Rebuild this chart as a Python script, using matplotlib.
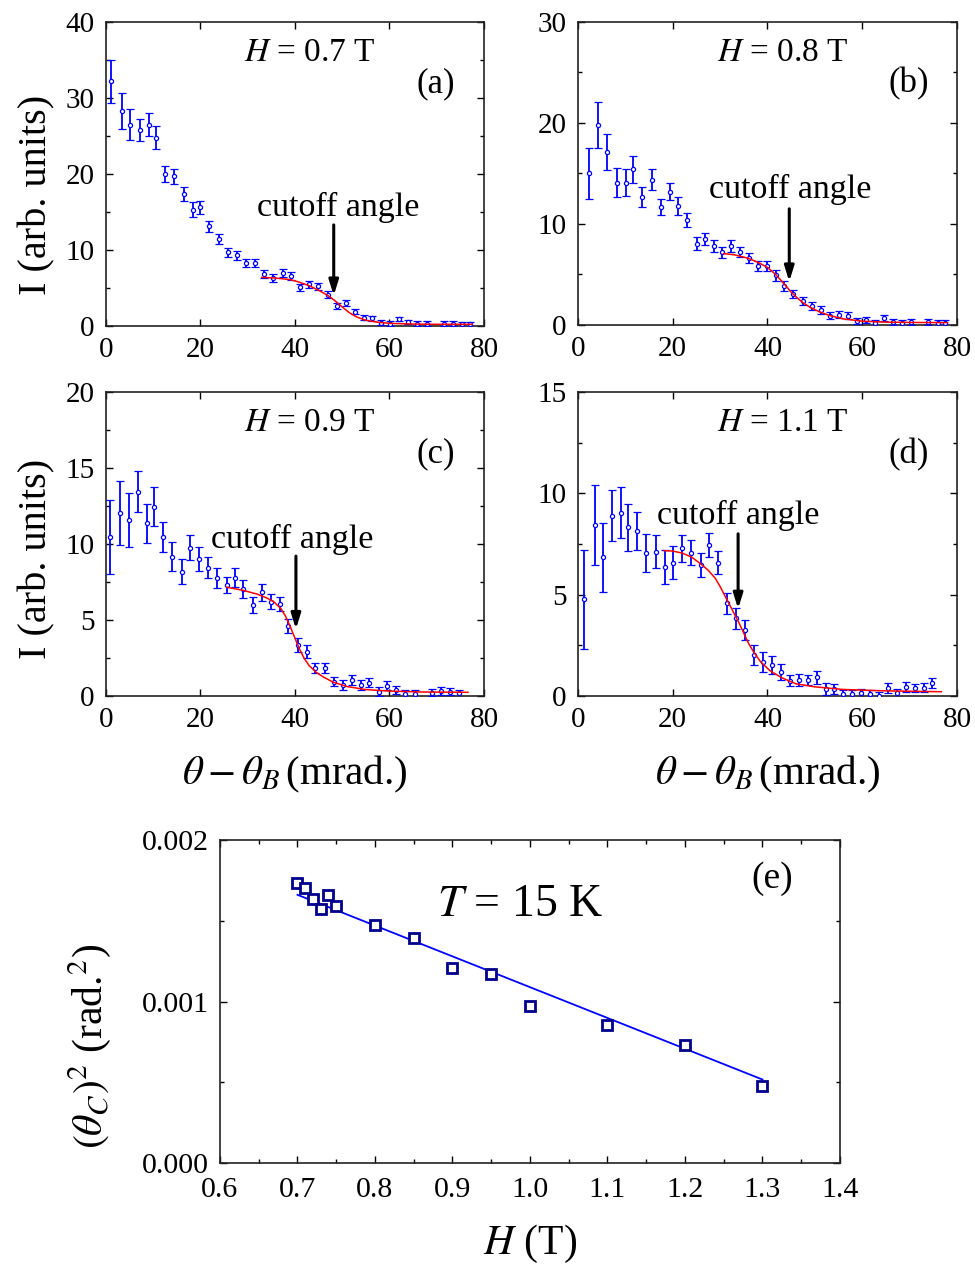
import matplotlib
matplotlib.use("Agg")
import matplotlib.pyplot as plt
from matplotlib.ticker import MultipleLocator, FormatStrFormatter

# ----------------------------------------------------
# Data
# ----------------------------------------------------

# (a) H = 0.7 T
xa = [1.1, 3.3, 5.1, 7.1, 9.0, 10.6, 12.4, 14.5, 16.5, 18.5, 20.0, 21.9, 23.9, 25.8,
      27.7, 29.6, 31.5, 33.5, 35.4, 37.4, 39.1, 41.1, 42.9, 44.9, 46.9, 48.8, 50.7,
      52.6, 54.5, 56.4, 58.3, 60.2, 62.1, 64.0, 65.9, 67.9, 71.6, 73.4, 75.3, 77.1]
ya = [32.2, 28.3, 26.5, 25.8, 26.5, 24.8, 20.0, 19.7, 17.4, 15.3, 15.6, 13.1, 11.4, 9.7,
      9.3, 8.3, 8.3, 6.8, 6.3, 7.0, 6.6, 5.1, 5.5, 5.2, 4.1, 2.6, 3.0,
      1.9, 1.1, 1.0, 0.45, 0.3, 0.9, 0.5, 0.3, 0.3, 0.3, 0.3, 0.2, 0.2]
ea = [2.8, 2.4, 2.0, 1.5, 1.5, 1.5, 1.1, 1.0, 0.9, 1.0, 0.85, 0.75, 0.65, 0.6,
      0.6, 0.55, 0.55, 0.55, 0.5, 0.5, 0.5, 0.45, 0.45, 0.45, 0.45, 0.4, 0.4,
      0.35, 0.35, 0.35, 0.3, 0.3, 0.3, 0.3, 0.3, 0.3, 0.3, 0.3, 0.3, 0.3]
fit_xa = [33, 36, 39, 41, 43, 45, 47, 48.5, 50, 51.5, 53, 55, 57.5, 60, 65, 70, 77.5]
fit_ya = [6.4, 6.3, 6.1, 5.75, 5.3, 4.7, 4.0, 3.3, 2.5, 1.75, 1.2, 0.75, 0.5, 0.35, 0.25, 0.22, 0.22]

# (b) H = 0.8 T
xb = [2.35, 4.3, 6.2, 8.2, 10.1, 11.7, 13.6, 15.6, 17.5, 19.4, 21.2, 23.1, 25.05, 26.9,
      28.7, 30.5, 32.3, 34.2, 36.2, 38.1, 39.8, 41.8, 43.5, 45.4, 47.5, 49.4, 51.4,
      53.2, 55.1, 57.0, 59.0, 60.75, 62.6, 64.6, 66.5, 68.4, 70.2, 73.9, 75.9, 77.5]
yb = [15.0, 19.8, 17.1, 14.1, 14.1, 15.4, 12.7, 14.4, 11.7, 13.2, 11.8, 10.4, 8.05, 8.5,
      7.8, 7.2, 7.8, 7.2, 6.6, 5.8, 5.8, 4.9, 3.85, 3.1, 2.4, 1.9, 1.5,
      0.9, 1.0, 0.9, 0.4, 0.5, 0.16, 0.66, 0.33, 0.16, 0.26, 0.26, 0.16, 0.23]
eb = [2.55, 2.27, 1.8, 1.4, 1.37, 1.3, 1.0, 1.0, 0.8, 0.85, 0.9, 0.7, 0.62, 0.58,
      0.62, 0.55, 0.6, 0.5, 0.5, 0.5, 0.5, 0.5, 0.5, 0.4, 0.4, 0.4, 0.4,
      0.35, 0.35, 0.35, 0.3, 0.3, 0.3, 0.3, 0.3, 0.3, 0.3, 0.3, 0.3, 0.3]
fit_xb = [30.7, 33, 36, 38, 40, 41.5, 43, 44, 45, 46, 47.5, 49, 51, 53, 56, 60, 65, 70, 78]
fit_yb = [7.07, 6.95, 6.6, 6.2, 5.7, 5.1, 4.35, 3.8, 3.25, 2.8, 2.2, 1.75, 1.3, 0.95,
          0.6, 0.38, 0.28, 0.25, 0.23]

# (c) H = 0.9 T
xc = [0.85, 3.0, 4.8, 6.7, 8.7, 10.2, 12.0, 14.0, 16.0, 17.85, 19.6, 21.5, 23.5, 25.6,
      27.4, 29.1, 31.1, 32.95, 34.9, 36.8, 38.6, 40.6, 42.5, 44.3, 46.4, 48.3, 50.2,
      52.0, 54.0, 55.75, 57.7, 59.5, 61.4, 63.3, 65.3, 69.0, 70.9, 72.8, 74.7]
yc = [10.48, 12.06, 11.58, 13.44, 11.36, 12.46, 10.44, 9.17, 8.18, 9.76, 8.99, 8.44, 7.78, 7.30,
      7.78, 7.04, 5.99, 6.82, 6.2, 6.03, 4.63, 3.36, 2.92, 1.86, 1.82, 0.94, 0.72,
      1.05, 0.72, 0.88, 0.29, 0.68, 0.39, 0.13, 0.13, 0.22, 0.33, 0.29, 0.18]
ec = [2.43, 2.1, 1.75, 1.35, 1.3, 1.26, 1.0, 0.93, 0.8, 0.84, 0.8, 0.68, 0.65, 0.55,
      0.62, 0.6, 0.55, 0.54, 0.5, 0.47, 0.46, 0.44, 0.44, 0.33, 0.33, 0.3, 0.3,
      0.33, 0.3, 0.3, 0.3, 0.3, 0.28, 0.25, 0.25, 0.25, 0.28, 0.25, 0.22]
fit_xc = [25.6, 29, 32, 34, 35.5, 37, 38, 39, 40, 41, 42, 43, 44.5, 46, 48, 51, 55, 60, 67, 76.6]
fit_yc = [7.15, 6.95, 6.7, 6.45, 6.2, 5.75, 5.25, 4.55, 3.8, 3.05, 2.45, 2.0, 1.55, 1.25,
          0.92, 0.62, 0.42, 0.32, 0.26, 0.24]

# (d) H = 1.1 T
xd = [1.3, 3.5, 5.2, 7.1, 9.0, 10.65, 12.4, 14.4, 16.5, 18.4, 20.0, 21.9, 23.9, 25.9,
      27.65, 29.5, 31.4, 33.35, 35.2, 37.1, 39.0, 40.9, 42.8, 44.7, 46.6, 48.5, 50.35,
      52.3, 54.1, 56.0, 57.9, 59.8, 61.7, 63.6, 65.5, 67.4, 69.2, 71.1, 73.0, 74.8]
yd = [4.77, 8.44, 6.84, 8.9, 9.05, 8.32, 8.14, 7.07, 7.12, 6.35, 6.58, 7.29, 7.07, 6.46,
      7.45, 6.58, 4.57, 3.83, 3.26, 2.02, 1.69, 1.53, 1.2, 0.76, 0.79, 0.79, 0.92,
      0.33, 0.33, 0.08, 0.08, 0.13, 0.08, 0.0, 0.41, 0.13, 0.46, 0.38, 0.41, 0.63]
ed = [2.45, 1.97, 1.7, 1.27, 1.27, 1.15, 0.95, 0.93, 0.8, 0.83, 0.8, 0.66, 0.62, 0.59,
      0.59, 0.55, 0.53, 0.51, 0.49, 0.5, 0.49, 0.43, 0.4, 0.29, 0.3, 0.25, 0.33,
      0.29, 0.25, 0.2, 0.2, 0.2, 0.2, 0.18, 0.25, 0.2, 0.25, 0.2, 0.22, 0.25]
fit_xd = [18.2, 20, 22, 24, 26, 27.5, 29, 30, 31, 32, 33, 34, 35, 36, 37, 38.5, 40.5,
          43, 46, 50, 56, 65, 76.7]
fit_yd = [7.17, 7.15, 7.05, 6.85, 6.5, 6.2, 5.8, 5.4, 4.95, 4.5, 4.05, 3.6, 3.1, 2.6,
          2.2, 1.7, 1.25, 0.9, 0.6, 0.45, 0.32, 0.25, 0.21]

# cutoff arrows: (arrow x, text x, text y, arrow start y, arrow end y)
cutoffs = [(48.2, 49.1, 15.6, 13.3, 4.0),
           (44.6, 44.9, 13.4, 11.5, 4.3),
           (40.2, 39.4, 10.3, 9.2, 4.4),
           (33.8, 33.8, 8.9, 8.0, 4.3)]

field_labels = ["$H$ = 0.7 T", "$H$ = 0.8 T", "$H$ = 0.9 T", "$H$ = 1.1 T"]
panel_labels = ["(a)", "(b)", "(c)", "(d)"]
y_tops = [40, 30, 20, 15]
y_steps = [10, 10, 5, 5]

# (e) cutoff angle squared vs field
field_H = [0.70, 0.71, 0.72, 0.73, 0.74, 0.75, 0.80, 0.85, 0.90, 0.95, 1.00, 1.10, 1.20, 1.30]
theta_c2 = [0.001733, 0.001702, 0.001638, 0.001572, 0.001659, 0.001593, 0.001475,
            0.001396, 0.001206, 0.001173, 0.000972, 0.000854, 0.000732, 0.000474]
fit_H = [0.70, 1.30]
fit_theta_c2 = [0.001661, 0.000517]


def style_ticks(ax, size=21):
    ax.tick_params(which="both", direction="in", top=True, right=True,
                   labelsize=size, width=1.0, pad=8)
    ax.tick_params(which="major", length=5)
    ax.tick_params(which="minor", length=3)
    for sp in ax.spines.values():
        sp.set_linewidth(1.2)
        sp.set_color("#222222")


def main():

    plt.rcParams["font.family"] = ["Liberation Serif", "DejaVu Serif"]
    plt.rcParams["mathtext.fontset"] = "stix"

    fig = plt.figure(figsize=(9.75, 12.64), dpi=100)

    # ----------------------------------------------------
    # Panels (a)-(d)
    # ----------------------------------------------------

    boxes = [(0.1087, 0.7421, 0.3877, 0.2405),
             (0.5928, 0.7429, 0.3887, 0.2397),
             (0.1087, 0.4494, 0.3877, 0.2405),
             (0.5928, 0.4494, 0.3887, 0.2405)]
    series = [(xa, ya, ea, fit_xa, fit_ya),
              (xb, yb, eb, fit_xb, fit_yb),
              (xc, yc, ec, fit_xc, fit_yc),
              (xd, yd, ed, fit_xd, fit_yd)]

    for i, (box, (x, y, e, fx, fy)) in enumerate(zip(boxes, series)):

        ax = fig.add_axes(box)

        ax.errorbar(x, y, yerr=e, fmt="o", color="blue", ecolor="blue",
                    markersize=3, markerfacecolor="white", markeredgewidth=0.9,
                    elinewidth=1.3, capsize=2.8, capthick=1.3, zorder=3)
        ax.plot(fx, fy, color="red", linewidth=1.1, zorder=4)

        ax_x, tx, ty, y0, y1 = cutoffs[i]
        ax.annotate("", xy=(ax_x, y1), xytext=(ax_x, y0),
                    arrowprops=dict(arrowstyle="-|>,head_length=0.9,head_width=0.28",
                                    color="black", lw=2.2, shrinkA=0, shrinkB=0),
                    zorder=5)
        ax.text(tx, ty, "cutoff angle", fontsize=24.5,
                ha="center", va="center")

        ax.text(0.54, 0.90, field_labels[i], transform=ax.transAxes,
                fontsize=24, ha="center", va="center")
        ax.text(0.873, 0.795, panel_labels[i], transform=ax.transAxes,
                fontsize=25, ha="center", va="center")

        ax.set_xlim(0, 80)
        ax.set_ylim(0, y_tops[i])
        ax.xaxis.set_major_locator(MultipleLocator(20))
        ax.yaxis.set_major_locator(MultipleLocator(y_steps[i]))
        ax.yaxis.set_minor_locator(MultipleLocator(y_steps[i] / 2))
        style_ticks(ax)

        if i in (0, 2):
            ax.set_ylabel("I (arb. units)", fontsize=29)
            ax.yaxis.set_label_coords(-0.135, 0.43 if i == 0 else 0.45)
        if i in (2, 3):
            ax.set_xlabel(r"$\theta-\theta_B\,$(mrad.)", fontsize=29.5)
            ax.xaxis.set_label_coords(0.5, -0.19)

    # ----------------------------------------------------
    # Panel (e)
    # ----------------------------------------------------

    ax = fig.add_axes((0.2256, 0.0799, 0.6359, 0.2555))

    ax.plot(fit_H, fit_theta_c2, color="blue", linewidth=1.3, zorder=2)
    ax.plot(field_H, theta_c2, "s", markersize=6.5, markerfacecolor="white",
            markeredgecolor="#00008b", markeredgewidth=2.0, zorder=3)

    ax.text(0.484, 0.80, "$T$ = 15 K", transform=ax.transAxes,
            fontsize=33, ha="center", va="center")
    ax.text(0.89, 0.88, "(e)", transform=ax.transAxes,
            fontsize=27, ha="center", va="center")

    ax.set_xlim(0.6, 1.4)
    ax.set_ylim(0.0, 0.002)
    ax.xaxis.set_major_locator(MultipleLocator(0.1))
    ax.xaxis.set_minor_locator(MultipleLocator(0.05))
    ax.yaxis.set_major_locator(MultipleLocator(0.001))
    ax.yaxis.set_minor_locator(MultipleLocator(0.0005))
    ax.xaxis.set_major_formatter(FormatStrFormatter("%.1f"))
    ax.yaxis.set_major_formatter(FormatStrFormatter("%.3f"))
    style_ticks(ax, size=21.5)
    ax.tick_params(axis="x", pad=10)

    ax.set_xlabel("$H$ (T)", fontsize=30)
    ax.xaxis.set_label_coords(0.5, -0.185)
    ax.set_ylabel(r"$(\theta_C)^2$ (rad.$^2$)", fontsize=30)
    ax.yaxis.set_label_coords(-0.172, 0.36)

    fig.savefig("out.png", dpi=100)
    plt.close(fig)


if __name__ == "__main__":
    main()
